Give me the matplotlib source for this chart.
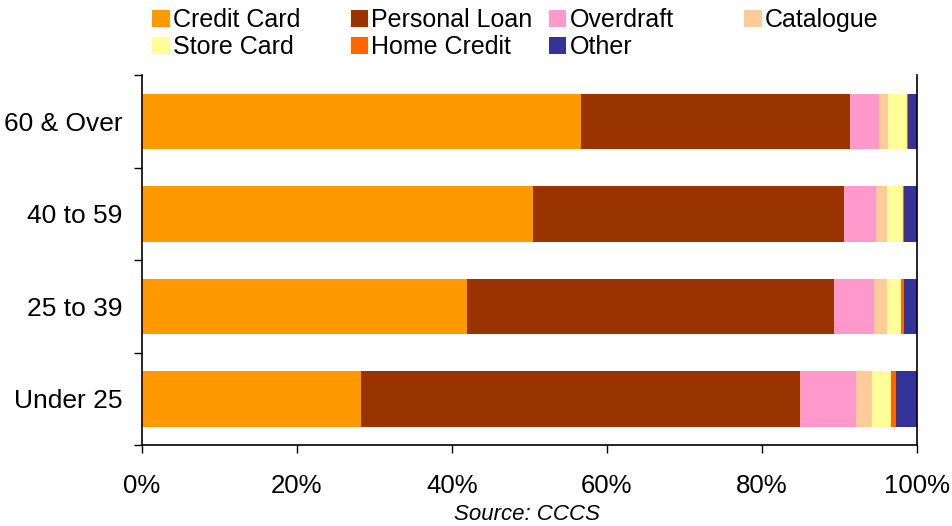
import matplotlib.pyplot as plt
from matplotlib.patches import Patch

# Data (percent of borrowing by age group)
groups = ['Under 25', '25 to 39', '40 to 59', '60 & Over']
credit_card = [28.3, 42.0, 50.5, 56.7]
personal_loan = [56.6, 47.3, 40.1, 34.7]
overdraft = [7.3, 5.2, 4.2, 3.7]
catalogue = [2.0, 1.7, 1.3, 1.2]
store_card = [2.5, 1.7, 2.1, 2.5]
home_credit = [0.6, 0.5, 0.2, 0.1]
other = [2.7, 1.6, 1.6, 1.1]

series = [
    ('Credit Card', credit_card, '#FF9900'),
    ('Personal Loan', personal_loan, '#993300'),
    ('Overdraft', overdraft, '#FF99CC'),
    ('Catalogue', catalogue, '#FFCC99'),
    ('Store Card', store_card, '#FFFF99'),
    ('Home Credit', home_credit, '#FF6600'),
    ('Other', other, '#333399'),
]

plt.rcParams['font.family'] = ['Liberation Sans', 'DejaVu Sans']

fig = plt.figure(figsize=(9.53, 5.26), dpi=100)
ax = fig.add_axes([0.149, 0.154, 0.813, 0.703])

# Stacked horizontal bars
y = range(len(groups))
left = [0] * len(groups)
for name, vals, color in series:
    ax.barh(y, vals, left=left, height=0.6, color=color, label=name)
    left = [l + v for l, v in zip(left, vals)]

ax.set_xlim(0, 100)
ax.set_ylim(-0.5, len(groups) - 0.5)
ax.set_xticks([0, 20, 40, 60, 80, 100])
ax.set_xticklabels(['0%', '20%', '40%', '60%', '80%', '100%'])
ax.set_yticks([i - 0.5 for i in range(len(groups) + 1)])
ax.set_yticklabels([])
ax.set_yticks(list(y), minor=True)
ax.set_yticklabels(groups, minor=True)
ax.tick_params(axis='y', which='minor', length=0, pad=14, labelsize=19)
ax.tick_params(axis='y', which='major', length=6, width=1)
ax.tick_params(axis='x', length=6, width=1, labelsize=18.5, pad=15)
ax.spines['top'].set_visible(False)
for s in ['left', 'bottom', 'right']:
    ax.spines[s].set_linewidth(1.2)

# Legend laid out as a 4x2 grid like the original
handles = {name: Patch(facecolor=color, edgecolor='none') for name, _, color in series}
columns = [['Credit Card', 'Store Card'], ['Personal Loan', 'Home Credit'],
           ['Overdraft', 'Other'], ['Catalogue']]
col_x = [0.139, 0.347, 0.555, 0.760]
for names, x in zip(columns, col_x):
    fig.legend([handles[n] for n in names], names, loc='upper left',
               bbox_to_anchor=(x, 1.022), frameon=False, fontsize=18,
               handlelength=0.7, handleheight=0.7, handletextpad=0.12,
               labelspacing=0.12, borderpad=0.3)

fig.text(0.553, 0.002, 'Source: CCCS', ha='center', va='bottom',
         fontsize=16, style='italic')

fig.savefig('out.png', dpi=100)
